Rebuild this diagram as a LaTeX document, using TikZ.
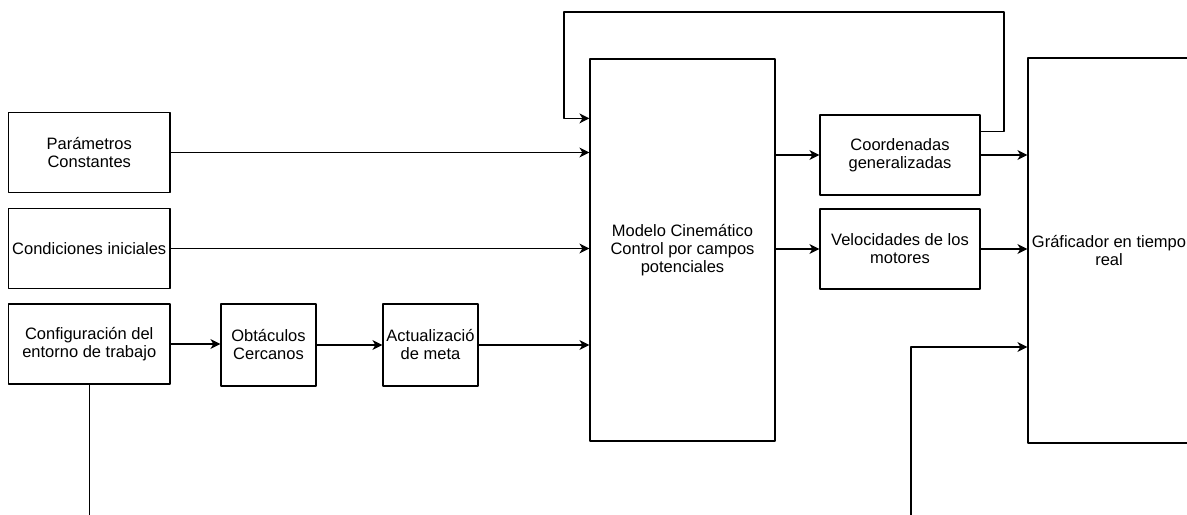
\documentclass[tikz,border=0pt]{standalone}
\usepackage{fontspec}
\setmainfont{Liberation Sans}
\usepackage{tikz}
\usetikzlibrary{arrows.meta}
\usetikzlibrary{shapes}

\begin{document}
\begin{tikzpicture}[>={Stealth[length=10bp,width=10bp,inset=3bp]},line join=bevel,
  blk/.style={draw,black,line width=1.2bp,inner sep=0pt,align=center,
    font=\fontsize{16.5bp}{18bp}\selectfont},
  con/.style={black,line width=1.2bp}]
\useasboundingbox (0bp,0bp) rectangle (1187bp,515bp);
%%
\node (pc) at (89.25bp,362.5bp) [blk,minimum width=161.5bp,minimum height=80bp] {Parámetros\\Constantes};
  \node (ci) at (89.25bp,266.5bp) [blk,minimum width=161.5bp,minimum height=80bp] {Condiciones iniciales};
  \node (ce) at (89.25bp,171bp) [blk,minimum width=161.5bp,minimum height=80bp] {Configuración del\\entorno de trabajo};
  \node (ob) at (268.5bp,170bp) [blk,minimum width=95bp,minimum height=82bp] {Obtáculos\\Cercanos};
  \node (am) at (430.5bp,170bp) [blk,minimum width=95bp,minimum height=82bp] {Actualizació\\de meta};
  \node (mc) at (682.5bp,265bp) [blk,minimum width=185bp,minimum height=382bp] {Modelo Cinemático\\Control por campos\\potenciales};
  \node (cg) at (900bp,360bp) [blk,minimum width=160bp,minimum height=80bp] {Coordenadas\\generalizadas};
  \node (vm) at (900bp,266bp) [blk,minimum width=160bp,minimum height=80bp] {Velocidades de los\\motores};
  \node (gr) at (1118bp,264.5bp) [blk,minimum width=180bp,minimum height=385bp,
    label={[font=\fontsize{16.5bp}{18bp}\selectfont,align=center,xshift=-9bp]center:Gráficador en tiempo\\real}] {};
  \coordinate (fb_r) at (1004bp,503bp);
  \coordinate (fb_l) at (564bp,503bp);
  \coordinate (bot_l) at (89.25bp,-2bp);
  \coordinate (bot_r) at (911bp,-2bp);
  \draw [con,->] (pc.east) -- (pc.east -| mc.west);
  \draw [con,->] (ci.east) -- (ci.east -| mc.west);
  \draw [con,->] (ce.east) -- (ce.east -| ob.west);
  \draw [con,->] (ob.east) -- (am.west);
  \draw [con,->] (am.east) -- (am.east -| mc.west);
  \draw [con,->] (cg.west -| mc.east) -- (cg.west);
  \draw [con,->] (vm.west -| mc.east) -- (vm.west);
  \draw [con,->] (cg.east) -- (cg.east -| gr.west);
  \draw [con,->] (vm.east) -- (vm.east -| gr.west);
  \draw [con,->] ([yshift=-17bp]cg.north east) -| (fb_r) -- (fb_l) |- ([yshift=-60bp]mc.north west);
  \draw [con] (ce) -- (bot_l);
  \draw [con,->] (bot_r) |- ([yshift=-96.5bp]gr.west);
%
\end{tikzpicture}
\end{document}
